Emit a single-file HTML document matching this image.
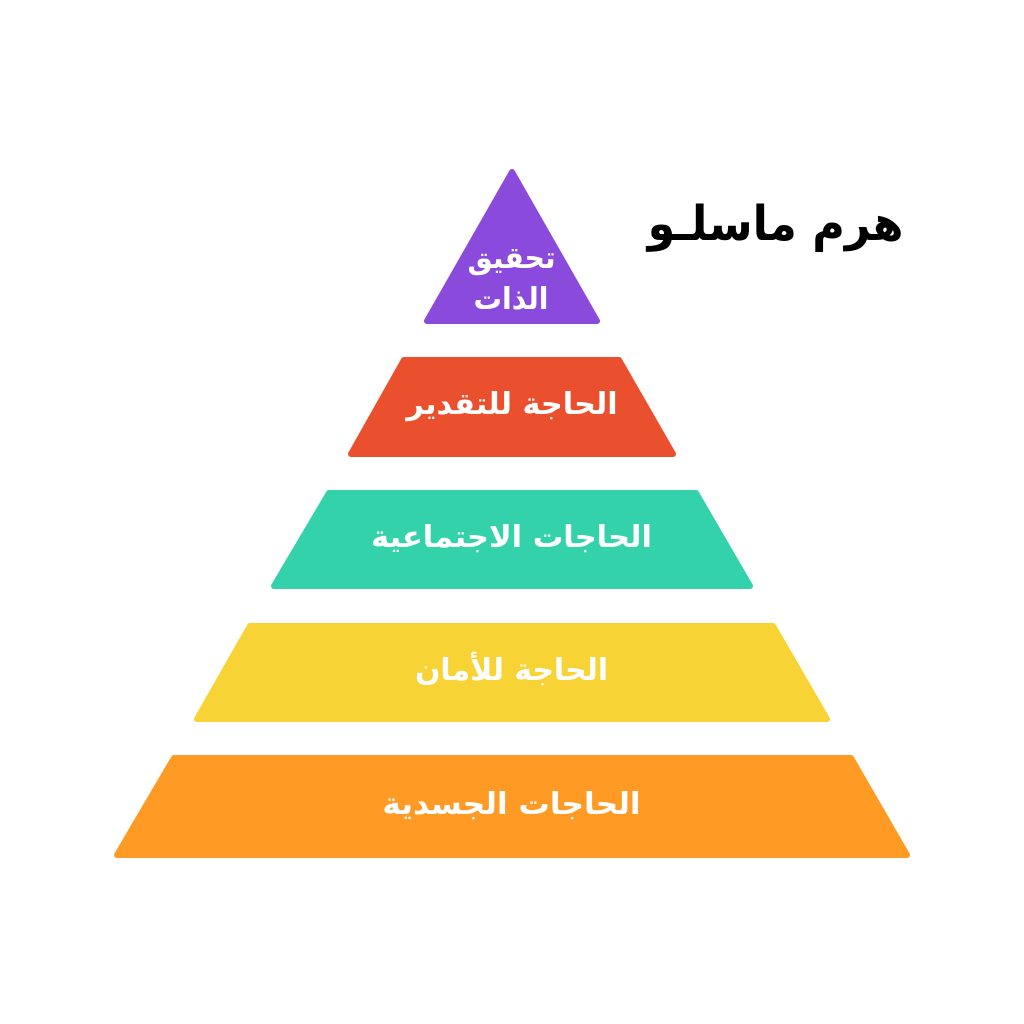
<!DOCTYPE html>
<html lang="ar">
<head>
<meta charset="utf-8">
<style>
html,body{margin:0;padding:0;background:#fff;width:1024px;height:1024px;overflow:hidden}
svg{display:block}
text{font-family:"DejaVu Sans",sans-serif;font-weight:bold;text-anchor:middle;direction:rtl}
.w{fill:#fff;font-size:30px}
</style>
</head>
<body>
<svg width="1024" height="1024" viewBox="0 0 1024 1024" xmlns="http://www.w3.org/2000/svg">
<rect width="1024" height="1024" fill="#fff"/>
<g stroke-linejoin="round" stroke-width="6">
<polygon points="512,172 597,321 427,321" fill="#8a4bdc" stroke="#8a4bdc"/>
<polygon points="404,360 619,360 673,454 351,454" fill="#ea502e" stroke="#ea502e"/>
<polygon points="329,493 696,493 750,586 274,586" fill="#33d2aa" stroke="#33d2aa"/>
<polygon points="250,626 773,626 827,719 197,719" fill="#f7d336" stroke="#f7d336"/>
<polygon points="174,758 851,758 907,855 117,855" fill="#ff9b24" stroke="#ff9b24"/>
</g>
<text transform="translate(775.5 240) scale(.927 1)" font-size="48" fill="#000">هرم ماسلـو</text>
<text class="w" transform="translate(511.5 268) scale(.94 1)">تحقيق</text>
<text class="w" transform="translate(511 309) scale(.945 1)">الذات</text>
<text class="w" transform="translate(512 414) scale(1.01 1)">الحاجة للتقدير</text>
<text class="w" transform="translate(511.5 547) scale(1.015 1)">الحاجات الاجتماعية</text>
<text class="w" transform="translate(511.5 680) scale(.995 1)">الحاجة للأمان</text>
<text class="w" transform="translate(511.5 814) scale(1.04 1)">الحاجات الجسدية</text>
</svg>
</body>
</html>
